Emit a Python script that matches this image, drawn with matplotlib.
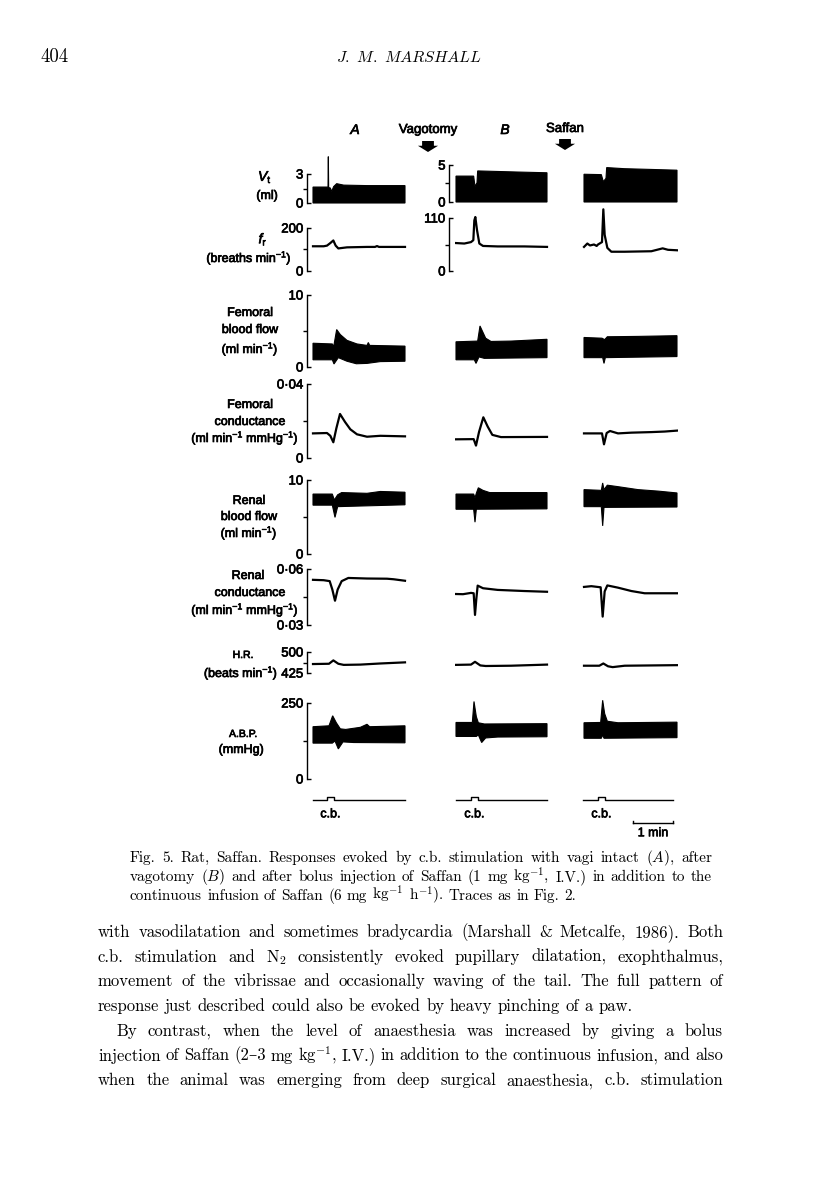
import numpy as np
import matplotlib
matplotlib.use('Agg')
import matplotlib.pyplot as plt
import matplotlib.patheffects as pe
from matplotlib.patches import FancyArrowPatch

# ---- traces, time in s relative to onset of c.b. stimulation ----
# tidal volume (ml), filled from 0 up to the envelope
vt_a_t = [-21, 0, 1.5, 2, 2.5, 5, 7, 10, 14.5, 25, 60, 117]
vt_a_hi = [1.65, 1.65, 1.65, 4.8, 1.6, 1.55, 1.2, 1.7, 2.0, 1.85, 1.8, 1.8]
vt_b_t = [-22.5, 4, 6, 9, 10, 30, 70, 114]
vt_b_hi = [3.5, 3.5, 2.1, 2.6, 4.2, 4.15, 4.05, 3.95]
vt_c_t = [-21, 5, 8, 12, 13, 40, 80, 118.5]
vt_c_hi = [3.75, 3.7, 2.75, 3.2, 4.65, 4.5, 4.4, 4.3]

# respiratory frequency (breaths/min)
fr_a_t = [-21, -5, 0, 5, 9.5, 13, 17, 30, 60, 72, 75, 78, 117]
fr_a = [115, 115, 118, 130, 142, 118, 105, 110, 112, 112, 116, 112, 112]
fr_b_t = [-22.5, -10, 0, 3.5, 5, 6.5, 9, 12.5, 18, 40, 80, 114]
fr_b = [58, 57, 60, 64, 105, 112, 85, 57, 52, 51, 51, 50]
fr_c_t = [-21, -16, -12, -6, -2, 0, 6, 8, 10, 14, 20, 40, 80, 97, 105, 118.5]
fr_c = [50, 57, 53, 55, 52, 55, 60, 128, 75, 48, 40, 40, 41, 47, 44, 43]

# femoral blood flow (ml/min), upper and lower envelope
ffl_a_hi_t = [-21, 8, 10, 14.5, 20, 30, 45, 60, 62, 64, 117]
ffl_a_hi = [3.3, 3.2, 2.8, 5.2, 4.5, 3.7, 3.2, 3.0, 3.4, 3.0, 2.9]
ffl_a_lo_t = [-21, 8, 10.5, 17, 30, 44, 60, 80, 117]
ffl_a_lo = [1.0, 1.0, 0.42, 1.3, 0.8, 0.45, 0.5, 0.75, 0.8]
ffl_b_hi_t = [-22.5, 10, 13.5, 22, 30, 60, 114]
ffl_b_hi = [3.5, 3.6, 5.7, 4.0, 3.55, 3.6, 3.85]
ffl_b_lo_t = [-22.5, 5, 7.5, 12, 20, 114]
ffl_b_lo = [1.0, 1.0, 0.5, 1.4, 1.2, 1.3]
ffl_c_hi_t = [-21, 6, 10, 14, 60, 118.5]
ffl_c_hi = [4.1, 4.0, 3.8, 4.2, 4.25, 4.35]
ffl_c_lo_t = [-21, 7, 9, 11, 118.5]
ffl_c_lo = [1.3, 1.3, 0.5, 1.3, 1.45]

# femoral conductance
fc_a_t = [-21, 0, 5, 9.5, 14, 19.5, 27, 35, 45, 60, 80, 117]
fc_a = [0.0133, 0.0135, 0.012, 0.0085, 0.016, 0.0238, 0.0195, 0.0155, 0.0128, 0.0115, 0.012, 0.0117]
fc_b_t = [-22.5, 4, 7.5, 12, 18.5, 25, 32, 45, 114]
fc_b = [0.0101, 0.0102, 0.0067, 0.014, 0.022, 0.017, 0.0125, 0.0113, 0.0114]
fc_c_t = [-21, 6, 9, 13, 18, 30, 50, 80, 100, 118.5]
fc_c = [0.0133, 0.0133, 0.0074, 0.0135, 0.0146, 0.0133, 0.0137, 0.014, 0.0143, 0.0148]

# renal blood flow
rfl_a_hi_t = [-21, 8, 11, 16, 22, 60, 80, 117]
rfl_a_hi = [8.1, 8.1, 7.3, 8.0, 8.3, 8.2, 8.45, 8.35]
rfl_a_lo_t = [-21, 8, 12, 16, 117]
rfl_a_lo = [6.6, 6.6, 4.95, 6.4, 6.65]
rfl_b_hi_t = [-22.5, 4, 6, 8, 11, 18, 28, 114]
rfl_b_hi = [8.1, 8.1, 7.6, 8.2, 8.95, 8.6, 8.3, 8.3]
rfl_b_lo_t = [-22.5, 4, 6, 8, 114]
rfl_b_lo = [6.05, 6.05, 4.3, 6.05, 6.1]
rfl_c_hi_t = [-21, 5, 7, 9, 14, 30, 60, 90, 118.5]
rfl_c_hi = [8.7, 8.6, 9.6, 8.7, 9.3, 9.1, 8.7, 8.5, 8.25]
rfl_c_lo_t = [-21, 5, 7, 9, 118.5]
rfl_c_lo = [6.4, 6.4, 3.8, 6.3, 6.35]

# renal conductance
rc_a_t = [-21, -5, 4, 8, 12, 16, 22, 32, 60, 90, 100, 117]
rc_a = [0.0542, 0.054, 0.0535, 0.049, 0.043, 0.049, 0.0535, 0.0552, 0.0549, 0.0548, 0.0545, 0.0537]
rc_b_t = [-22.5, -12, 0, 4, 6, 8, 10, 18, 40, 80, 114]
rc_b = [0.0466, 0.0465, 0.0472, 0.047, 0.0354, 0.044, 0.0511, 0.0497, 0.0488, 0.0482, 0.0478]
rc_c_t = [-21, -10, 4, 7, 10, 14, 30, 50, 70, 118.5]
rc_c = [0.0504, 0.0508, 0.0502, 0.0345, 0.048, 0.0512, 0.05, 0.0482, 0.047, 0.047]

# heart rate
hr_a_t = [-21, 3, 9.5, 17, 25, 50, 80, 117]
hr_a = [457, 458, 470, 458, 454, 455, 459, 463]
hr_b_t = [-22.5, 0, 6, 14, 22, 60, 114]
hr_b = [454, 455, 465, 452, 450, 451, 455]
hr_c_t = [-21, 2, 8, 15, 22, 40, 118.5]
hr_c = [451, 451, 459, 449, 446, 451, 453]

# arterial blood pressure envelope
abp_a_hi_t = [-21, 3, 8.5, 14, 20, 28, 50, 60, 64, 117]
abp_a_hi = [172, 175, 208, 185, 165, 163, 170, 180, 172, 175]
abp_a_lo_t = [-21, 8, 12, 17, 24, 40, 117]
abp_a_lo = [118, 118, 125, 99, 122, 120, 119]
abp_b_hi_t = [-22.5, 2, 4.5, 8, 11, 20, 114]
abp_b_hi = [186, 186, 255, 205, 185, 181, 182]
abp_b_lo_t = [-22.5, 8, 11, 16, 22, 40, 114]
abp_b_lo = [140, 140, 145, 120, 135, 138, 139]
abp_c_hi_t = [-21, 4, 7, 10, 14, 30, 118.5]
abp_c_hi = [185, 186, 259, 215, 190, 185, 187]
abp_c_lo_t = [-21, 5, 7, 9, 118.5]
abp_c_lo = [134, 134, 145, 134, 136]

# stimulus marker
stim_a_t = [-21, 0, 0, 10, 10, 117]
stim_b_t = [-22.5, 0, 0, 10, 10, 114]
stim_c_t = [-22.5, 0, 0, 10, 10, 112.5]
stim_v = [0, 0, 1, 1, 0, 0]
bar_t = [52.5, 112.5]   # 1 min

W, H = 816, 1181
plt.rcParams['font.family'] = ['Liberation Sans', 'DejaVu Sans']
plt.rcParams['mathtext.fontset'] = 'custom'
plt.rcParams['mathtext.rm'] = 'Liberation Sans'
plt.rcParams['mathtext.it'] = 'Liberation Sans:italic'
plt.rcParams['mathtext.bf'] = 'Liberation Sans:bold'

fig = plt.figure(figsize=(W / 100, H / 100), dpi=100)
fig.patch.set_facecolor('white')

INK = [pe.withStroke(linewidth=0.5, foreground='black')]
COL_X = [311, 455, 582]
T0, T1 = -24, 120
COL_W = (T1 - T0) / 1.5   # 40 px per minute


def ptxt(x, y, s, **kw):
    kw.setdefault('ha', 'center')
    kw.setdefault('va', 'center')
    return fig.text(x / W, 1 - y / H, s, **kw)


def place(col, lo, hi, ylo, yhi, ymin, ymax):
    k = (ylo - yhi) / (hi - lo)
    bot = ylo + (lo - ymin) * k
    top = yhi - (ymax - hi) * k
    ax = fig.add_axes([COL_X[col] / W, 1 - bot / H, COL_W / W, (bot - top) / H])
    ax.set_xlim(T0, T1)
    ax.set_ylim(ymin, ymax)
    ax.patch.set_alpha(0)
    for s in ax.spines.values():
        s.set_visible(False)
    ax.set_xticks([])
    ax.set_yticks([])
    return ax


def bracket(ax, lo, hi, labels, off):
    sp = ax.spines['left']
    sp.set_visible(True)
    sp.set_position(('outward', off))
    sp.set_bounds(lo, hi)
    sp.set_linewidth(1)
    ax.set_yticks([lo, hi])
    ax.set_yticklabels(labels)
    ax.set_yticks([(lo + hi) / 2], minor=True)
    ax.tick_params(axis='y', which='major', direction='in', length=3, width=1,
                   pad=2.5, labelsize=9.5)
    ax.tick_params(axis='y', which='minor', direction='out', length=3, width=1)
    for t in ax.get_yticklabels():
        t.set_path_effects(INK)


def band(ax, t_hi, hi, t_lo, lo):
    ax.fill(list(t_hi) + list(t_lo)[::-1], list(hi) + list(lo)[::-1],
            color='black', lw=0.8)


def line(ax, t, v):
    ax.plot(t, v, color='black', lw=1.6, solid_joinstyle='round')


# rows: (lo, hi, y_lo px, y_hi px, ymin, ymax, labels)
r_vt_a = (0, 3, 203, 174, -0.2, 5.0, ['0', '3'])
r_vt_b = (0, 5, 202, 165, -0.3, 5.5, ['0', '5'])
r_fr_a = (0, 200, 271, 228, -10, 230, ['0', '200'])
r_fr_b = (0, 110, 271, 218, -5, 135, ['0', '110'])
r_ffl = (0, 10, 367, 295, -0.5, 10.5, ['0', '10'])
r_fc = (0, 0.04, 458, 384, -0.002, 0.042, ['0', '0\u00b704'])
r_rfl = (0, 10, 554, 480, -0.5, 10.5, ['0', '10'])
r_rc = (0.03, 0.06, 625, 569, 0.028, 0.062, ['0\u00b703', '0\u00b706'])
r_hr = (425, 500, 673, 652, 415, 510, ['425', '500'])
r_abp = (0, 250, 779, 703, -10, 270, ['0', '250'])


def row_axes(col, r, with_scale=False, off=3):
    ax = place(col, *r[:6])
    if with_scale:
        bracket(ax, r[0], r[1], r[6], off)
    return ax


# tidal volume
for col, (t, v, r) in enumerate([(vt_a_t, vt_a_hi, r_vt_a), (vt_b_t, vt_b_hi, r_vt_b),
                                 (vt_c_t, vt_c_hi, r_vt_b)]):
    ax = row_axes(col, r, col < 2, 3 if col == 0 else 4.3)
    band(ax, t, v, [t[0], t[-1]], [0, 0])

# frequency
for col, (t, v, r) in enumerate([(fr_a_t, fr_a, r_fr_a), (fr_b_t, fr_b, r_fr_b),
                                 (fr_c_t, fr_c, r_fr_b)]):
    ax = row_axes(col, r, col < 2, 3 if col == 0 else 4.3)
    line(ax, t, v)

# femoral flow
for col, d in enumerate([(ffl_a_hi_t, ffl_a_hi, ffl_a_lo_t, ffl_a_lo),
                         (ffl_b_hi_t, ffl_b_hi, ffl_b_lo_t, ffl_b_lo),
                         (ffl_c_hi_t, ffl_c_hi, ffl_c_lo_t, ffl_c_lo)]):
    ax = row_axes(col, r_ffl, col == 0)
    band(ax, *d)

# femoral conductance
for col, (t, v) in enumerate([(fc_a_t, fc_a), (fc_b_t, fc_b), (fc_c_t, fc_c)]):
    ax = row_axes(col, r_fc, col == 0)
    line(ax, t, v)

# renal flow
for col, d in enumerate([(rfl_a_hi_t, rfl_a_hi, rfl_a_lo_t, rfl_a_lo),
                         (rfl_b_hi_t, rfl_b_hi, rfl_b_lo_t, rfl_b_lo),
                         (rfl_c_hi_t, rfl_c_hi, rfl_c_lo_t, rfl_c_lo)]):
    ax = row_axes(col, r_rfl, col == 0)
    band(ax, *d)

# renal conductance
for col, (t, v) in enumerate([(rc_a_t, rc_a), (rc_b_t, rc_b), (rc_c_t, rc_c)]):
    ax = row_axes(col, r_rc, col == 0)
    line(ax, t, v)

# heart rate
for col, (t, v) in enumerate([(hr_a_t, hr_a), (hr_b_t, hr_b), (hr_c_t, hr_c)]):
    ax = row_axes(col, r_hr, col == 0)
    line(ax, t, v)

# blood pressure
for col, d in enumerate([(abp_a_hi_t, abp_a_hi, abp_a_lo_t, abp_a_lo),
                         (abp_b_hi_t, abp_b_hi, abp_b_lo_t, abp_b_lo),
                         (abp_c_hi_t, abp_c_hi, abp_c_lo_t, abp_c_lo)]):
    ax = row_axes(col, r_abp, col == 0)
    band(ax, *d)

# stimulus marker + time bar
for col, st in enumerate([stim_a_t, stim_b_t, stim_c_t]):
    ax = place(col, 0, 1, 800, 797, -10, 2)
    ax.plot(st, stim_v, color='black', lw=1.0)
    ax.annotate('c.b.', xy=(5, 0), xytext=(0, -6), textcoords='offset points',
                ha='center', va='top', fontsize=9, path_effects=INK)
    if col == 2:
        ax.plot(bar_t, [-7.7, -7.7], color='black', lw=1.0)
        ax.plot([bar_t[0], bar_t[0]], [-7.7, -7.0], color='black', lw=1.0)
        ax.plot([bar_t[1], bar_t[1]], [-7.7, -7.0], color='black', lw=1.0)
        ax.annotate('1 min', xy=(sum(bar_t) / 2, -7.7), xytext=(0, -3),
                    textcoords='offset points', ha='center', va='top', fontsize=9,
                    path_effects=INK)

# row labels
lab = dict(fontsize=9, path_effects=INK)
ptxt(265, 177, r'$V_{\mathrm{t}}$', fontsize=10, path_effects=INK)
ptxt(267, 196, '(ml)', **lab)
ptxt(263, 239, r'$f_{\mathrm{r}}$', fontsize=10, path_effects=INK)
ptxt(249, 258, r'(breaths min$^{-1}$)', **lab)
ptxt(250, 313, 'Femoral', **lab)
ptxt(250, 330, 'blood flow', **lab)
ptxt(250, 349, r'(ml min$^{-1}$)', **lab)
ptxt(250, 405, 'Femoral', **lab)
ptxt(250, 422, 'conductance', **lab)
ptxt(245, 438, r'(ml min$^{-1}$ mmHg$^{-1}$)', **lab)
ptxt(249, 501, 'Renal', **lab)
ptxt(249, 517, 'blood flow', **lab)
ptxt(249, 533, r'(ml min$^{-1}$)', **lab)
ptxt(248, 576, 'Renal', **lab)
ptxt(250, 593, 'conductance', **lab)
ptxt(245, 610, r'(ml min$^{-1}$ mmHg$^{-1}$)', **lab)
ptxt(243, 655, 'H.R.', fontsize=7.5, path_effects=INK)
ptxt(241, 673, r'(beats min$^{-1}$)', **lab)
ptxt(243, 734, 'A.B.P.', fontsize=7.5, path_effects=INK)
ptxt(241, 750, '(mmHg)', **lab)

# column headings and arrows
ptxt(355, 130, 'A', fontsize=10, style='italic', path_effects=INK)
ptxt(505, 130, 'B', fontsize=10, style='italic', path_effects=INK)
ptxt(428, 130, 'Vagotomy', fontsize=9.5, path_effects=INK)
ptxt(565, 129, 'Saffan', fontsize=9.5, path_effects=INK)
for x, y0, y1 in [(428, 141, 152), (565, 139, 150)]:
    fig.add_artist(FancyArrowPatch((x / W, 1 - y0 / H), (x / W, 1 - y1 / H),
                                   transform=fig.transFigure, shrinkA=0, shrinkB=0,
                                   arrowstyle='simple,head_length=0.45,head_width=1.45,tail_width=0.85',
                                   mutation_scale=10, color='black', lw=0))

# running head
serif = ['cmr10', 'DejaVu Serif']
ptxt(40, 62, '404', ha='left', va='baseline', fontsize=13.5, family=serif)
ptxt(409, 62, r'$J.\ M.\ MARSHALL$', va='baseline', fontsize=11.5,
     math_fontfamily='cm')

renderer = fig.canvas.get_renderer()


def justify(text, x0, x1, y, size, last=False, indent=0):
    words = text.split(' ')
    objs = [ptxt(0, y, w, ha='left', va='baseline', fontsize=size, family=serif,
                 math_fontfamily='cm') for w in words]
    widths = [o.get_window_extent(renderer).width for o in objs]
    if last or len(words) == 1:
        gap = size * 100 / 72 * 0.33
    else:
        gap = (x1 - x0 - indent - sum(widths)) / (len(words) - 1)
    x = x0 + indent
    for o, w in zip(objs, widths):
        o.set_position((x / W, 1 - y / H))
        x += w + gap


caption = [
    (r'Fig. 5. Rat, Saffan. Responses evoked by c.b. stimulation with vagi intact ($A$), after', False),
    (r'vagotomy ($B$) and after bolus injection of Saffan (1 mg $\mathrm{kg}^{-1}$, I.V.) in addition to the', False),
    (r'continuous infusion of Saffan (6 mg $\mathrm{kg}^{-1}$ $\mathrm{h}^{-1}$). Traces as in Fig. 2.', True),
]
for i, (s, last) in enumerate(caption):
    justify(s, 130, 712, 862 + 19 * i, 11, last)

body = [
    ('with vasodilatation and sometimes bradycardia (Marshall & Metcalfe, 1986). Both', False, 0),
    (r'c.b. stimulation and $\mathrm{N}_2$ consistently evoked pupillary dilatation, exophthalmus,', False, 0),
    ('movement of the vibrissae and occasionally waving of the tail. The full pattern of', False, 0),
    ('response just described could also be evoked by heavy pinching of a paw.', True, 0),
    ('By contrast, when the level of anaesthesia was increased by giving a bolus', False, 18),
    ('injection of Saffan (2\u20133 mg $\\mathrm{kg}^{-1}$, I.V.) in addition to the continuous infusion, and also', False, 0),
    ('when the animal was emerging from deep surgical anaesthesia, c.b. stimulation', False, 0),
]
for i, (s, last, ind) in enumerate(body):
    justify(s, 98, 723, 937 + 24.7 * i, 12.0, last, ind)

fig.savefig('out.png', dpi=100, facecolor='white')
